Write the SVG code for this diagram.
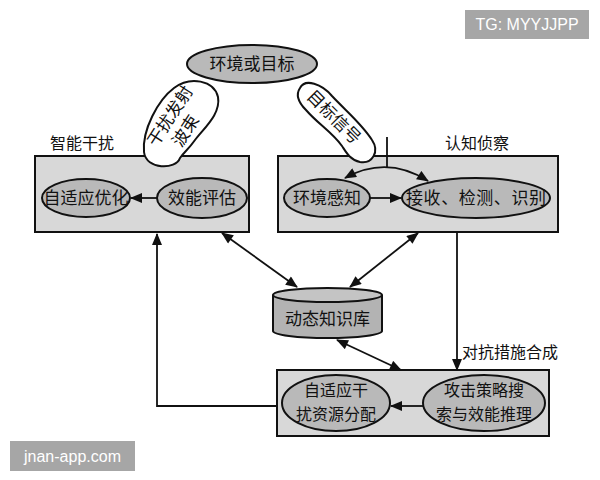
<svg xmlns="http://www.w3.org/2000/svg" width="600" height="480" viewBox="0 0 600 480">
<style>
.box{fill:#d8d8d8;stroke:#111;stroke-width:2}
.ell{fill:#b9b9b9;stroke:#111;stroke-width:2}
.blob{fill:#fff;stroke:#111;stroke-width:2}
.t{font-family:"Noto Sans CJK SC","Noto Sans",sans-serif;font-size:17px;fill:#111;text-anchor:middle}
.t2{font-family:"Noto Sans CJK SC","Noto Sans",sans-serif;font-size:16px;fill:#111;text-anchor:middle}
.lbl{font-family:"Noto Sans CJK SC","Noto Sans",sans-serif;font-size:16px;fill:#111}
.ln{fill:none;stroke:#111;stroke-width:1.8}
.wm{font-family:"Liberation Sans","DejaVu Sans",sans-serif;font-size:16px;fill:#fff}
</style>
<defs>
<marker id="ah" viewBox="0 0 12 10" refX="11" refY="5" markerWidth="13" markerHeight="10" markerUnits="userSpaceOnUse" orient="auto-start-reverse">
<path d="M0,0 L12,5 L0,10 Z" fill="#111"/>
</marker>
</defs>
<rect width="600" height="480" fill="#fff"/>

<g id="env">
<ellipse class="ell" cx="252" cy="64" rx="65" ry="19"/>
<text class="t" x="252" y="70" font-size="18">环境或目标</text>
</g>

<g id="jam-box">
<rect class="box" x="35" y="156" width="214" height="76"/>
<text class="lbl" x="50" y="149">智能干扰</text>
</g>
<g id="adapt-opt">
<ellipse class="ell" cx="86" cy="198" rx="44" ry="19"/>
<text class="t" x="86" y="204">自适应优化</text>
</g>
<g id="eff-eval">
<ellipse class="ell" cx="202" cy="198" rx="45" ry="20"/>
<text class="t" x="202" y="204">效能评估</text>
</g>

<g id="recon-box">
<rect class="box" x="278" y="156" width="280" height="76"/>
<text class="lbl" x="445" y="149">认知侦察</text>
</g>
<g id="env-sense">
<ellipse class="ell" cx="327" cy="198" rx="43" ry="19"/>
<text class="t" x="327" y="204">环境感知</text>
</g>
<g id="recv">
<ellipse class="ell" cx="476" cy="198" rx="74" ry="20"/>
<text class="t" x="476" y="204" textLength="140">接收、检测、识别</text>
</g>

<g id="kb">
<path d="M273,295 L273,331 A54.5,7 0 0 0 382,331 L382,295" fill="#b3b3b3" stroke="#111" stroke-width="2"/>
<ellipse cx="327.5" cy="295" rx="54.5" ry="7" fill="#c4c4c4" stroke="#111" stroke-width="2"/>
<text class="t" x="327.5" y="325" font-size="16">动态知识库</text>
</g>

<g id="bottom-box">
<rect class="box" x="277" y="370" width="272" height="66"/>
</g>
<g id="alloc">
<ellipse class="ell" cx="336" cy="403" rx="54" ry="28"/>
<text class="t2" x="336" y="396">自适应干</text>
<text class="t2" x="336" y="420">扰资源分配</text>
</g>
<g id="attack">
<ellipse class="ell" cx="484" cy="403" rx="61" ry="28"/>
<text class="t2" x="484" y="396">攻击策略搜</text>
<text class="t2" x="484" y="420">索与效能推理</text>
</g>

<g id="beam">
<path class="blob" d="M180,158 C176,170 146,170 144,152 C142,130 158,100 174,88 C190,76 214,80 218,97 C221,114 204,128 195,140 C188,150 184,152 180,158 Z"/>
<text class="t" transform="translate(170,116) rotate(-57)"><tspan x="0" y="6">干扰发射</tspan><tspan x="-4" y="27">波束</tspan></text>
</g>
<g id="signal">
<path class="blob" d="M300,88 C305,78 322,84 332,96 C345,110 362,124 372,140 C380,152 372,164 360,162 C350,160 346,152 342,146 C332,132 318,124 306,110 C298,102 296,94 300,88 Z"/>
<text class="t" transform="translate(334,117) rotate(45)"><tspan x="0" y="6">目标信号</tspan></text>
</g>

<g id="connectors">
<line class="ln" x1="157" y1="198" x2="131" y2="198" marker-end="url(#ah)"/>
<line class="ln" x1="370" y1="198" x2="401" y2="198" marker-end="url(#ah)"/>
<line class="ln" x1="387" y1="137" x2="387" y2="167"/>
<path class="ln" d="M345,178 Q387,155 428,181" marker-start="url(#ah)" marker-end="url(#ah)"/>
<line class="ln" x1="222" y1="233" x2="297" y2="287" marker-start="url(#ah)" marker-end="url(#ah)"/>
<line class="ln" x1="418" y1="233" x2="350" y2="287" marker-start="url(#ah)" marker-end="url(#ah)"/>
<line class="ln" x1="337" y1="340" x2="401" y2="370" marker-start="url(#ah)" marker-end="url(#ah)"/>
<line class="ln" x1="457" y1="232" x2="457" y2="370" marker-end="url(#ah)"/>
<text class="lbl" x="462" y="358">对抗措施合成</text>
<line class="ln" x1="423" y1="406" x2="391" y2="406" marker-end="url(#ah)"/>
<polyline class="ln" points="277,406 157,406 157,234" marker-end="url(#ah)"/>
</g>

<g id="watermarks">
<rect x="465" y="10" width="124" height="29" fill="#a6a6a6"/>
<text class="wm" x="527" y="30" text-anchor="middle">TG: MYYJJPP</text>
<rect x="10" y="441" width="125" height="30" fill="#a6a6a6"/>
<text class="wm" x="72.5" y="462" text-anchor="middle">jnan-app.com</text>
</g>
</svg>
